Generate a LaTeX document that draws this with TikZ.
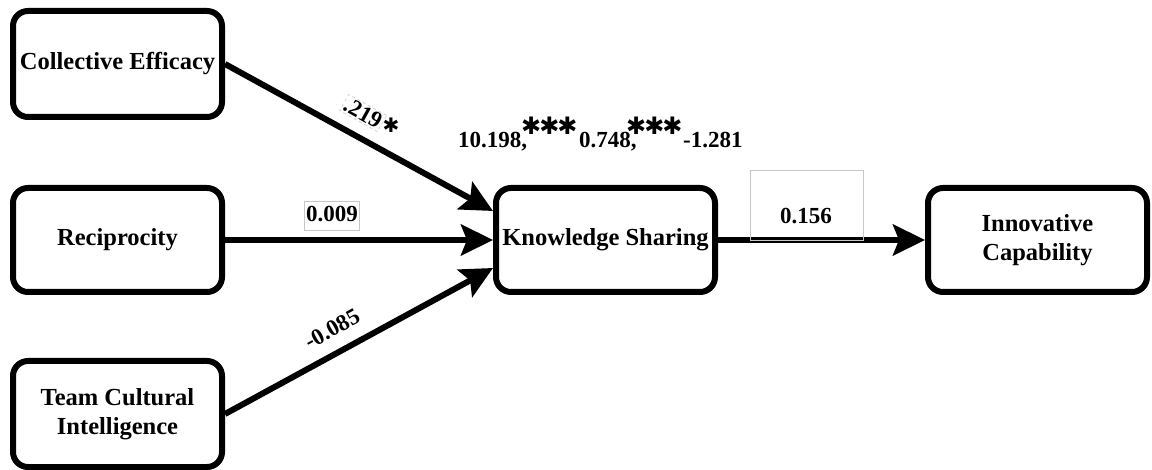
\documentclass[tikz,border=0pt]{standalone}
\usepackage{fontspec}
\setmainfont{Liberation Serif}
\newfontfamily\symfont{DejaVu Sans}
\usetikzlibrary{arrows.meta}

% three heavy asterisks used as significance marks
\newcommand{\sigstars}{{\symfont\fontsize{24}{24}\selectfont ✱\kern-2pt✱\kern-2pt✱}}

\begin{document}
\begin{tikzpicture}[x=1pt,y=-1pt,
  construct/.style={draw, line width=6pt, rounded corners=15pt, fill=white,
    minimum width=209pt, minimum height=106pt, align=center, inner sep=0pt,
    font=\bfseries\fontsize{24.5}{29}\selectfont},
  wide/.style={minimum width=219pt, minimum height=104pt},
  link/.style={line width=6pt, -{Stealth[length=32pt,width=31pt,inset=6pt]}},
  coef/.style={font=\bfseries\fontsize{23}{28}\selectfont, inner sep=1.5pt},
  faint/.style={draw=black!22, line width=0.6pt}
]
\useasboundingbox (0,0) rectangle (1152,470);

% constructs
\node[construct] (ce)  at (117.5,64)  {Collective Efficacy};
\node[construct, minimum height=104pt] (rec) at (117.5,240) {Reciprocity};
\node[construct] (tci) at (117.5,414) {Team Cultural\\Intelligence};
\node[construct, wide] (ks) at (605.5,240) {Knowledge Sharing};
\node[construct, wide] (ic) at (1037.5,240) {Innovative\\Capability};

% paths
\draw[link] (ce.east)  -- ([yshift=29pt]ks.west);
\draw[link] (rec.east) -- (ks.west);
\draw[link] (tci.east) -- ([yshift=-28pt]ks.west);
\draw[link] (ks.east)  -- (ic.west);

% path coefficients
\node[coef, faint, dashed, rotate=-29] (c219) at (363,113) {.219};
\node[inner sep=0pt, font=\symfont\fontsize{20}{20}\selectfont] (s219) at (391,125) {✱};
\node[coef, faint, inner xsep=1.5pt, inner ysep=5pt, text depth=4pt] (c009) at (332,216) {0.009};
\node[coef, rotate=29] (c085) at (332,329) {-0.085};
\node[faint, minimum width=113pt, minimum height=70pt, inner sep=0pt] (f156) at (806.5,205) {};
\node[coef] (c156) at (806,216) {0.156};

% indirect effect estimates
\node[coef, anchor=base west, inner sep=0pt] (e1) at (458,148) {10.198,};
\node[anchor=west, inner sep=0pt] (st1) at (521,126) {\sigstars};
\node[coef, anchor=base west, inner sep=0pt] (e2) at (579,148) {0.748,};
\node[anchor=west, inner sep=0pt] (st2) at (626,126) {\sigstars};
\node[coef, anchor=base west, inner sep=0pt] (e3) at (683,148) {-1.281};
\end{tikzpicture}
\end{document}
